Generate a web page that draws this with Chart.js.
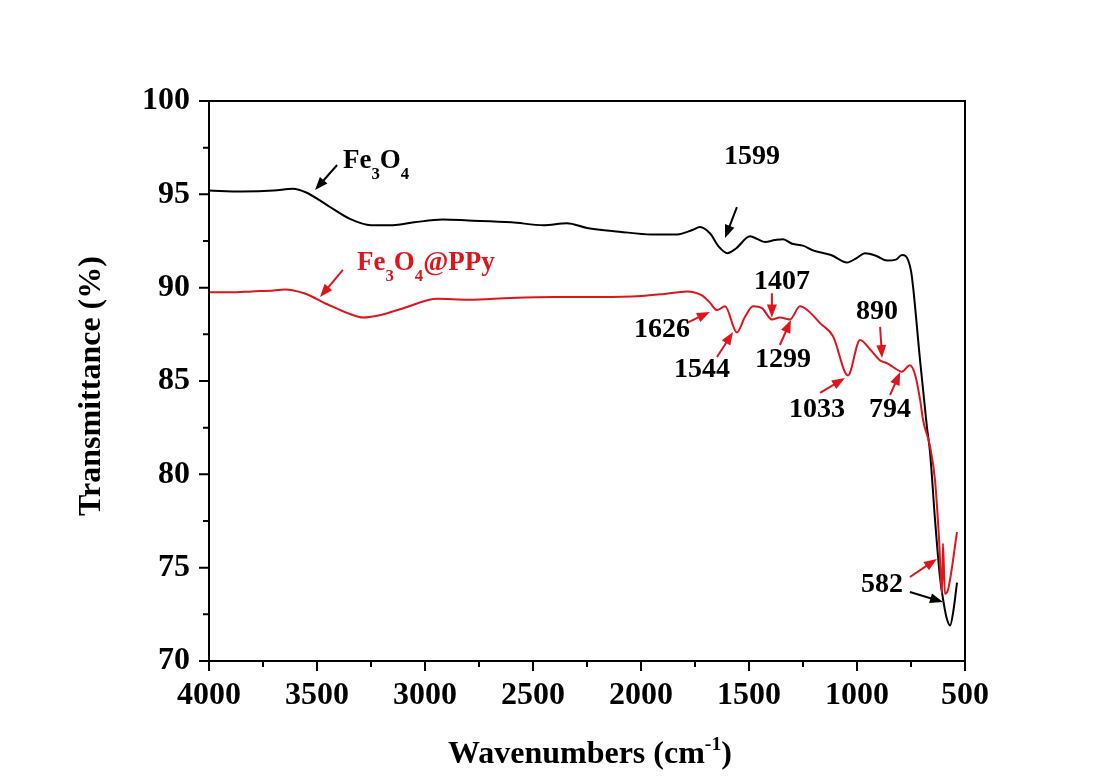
<!DOCTYPE html>
<html>
<head>
<meta charset="utf-8">
<script src="https://cdn.jsdelivr.net/npm/chart.js@4.4.0/dist/chart.umd.min.js"></script>
<style>
  body { margin: 0; background: #fff; }
</style>
</head>
<body>
<canvas id="ftir" width="1105" height="783"></canvas>
<script>
// FTIR spectra
const fe3o4Wn = [4000, 3850, 3700, 3611, 3550, 3450, 3350, 3250, 3150, 3050, 2917, 2800, 2600, 2450, 2343, 2250, 2100, 1950, 1833, 1760, 1727, 1680, 1640, 1600, 1560, 1495, 1460, 1426, 1380, 1343, 1300, 1250, 1204, 1120, 1046, 1000, 963, 910, 861, 820, 792, 775, 750, 740, 708, 676, 662, 639, 616, 600, 585, 569, 555, 537];
const fe3o4T  = [95.2, 95.15, 95.2, 95.3, 95.1, 94.4, 93.7, 93.35, 93.35, 93.5, 93.65, 93.6, 93.5, 93.35, 93.45, 93.2, 93.0, 92.85, 92.85, 93.1, 93.25, 92.9, 92.2, 91.85, 92.1, 92.75, 92.6, 92.45, 92.55, 92.6, 92.35, 92.25, 92.0, 91.75, 91.35, 91.6, 91.85, 91.7, 91.45, 91.5, 91.75, 91.7, 90.9, 90.0, 86.1, 82.5, 81.2, 77.6, 74.5, 73.2, 72.3, 71.9, 72.6, 74.2];

const ppyWn = [4000, 3900, 3800, 3700, 3650, 3560, 3450, 3350, 3287, 3200, 3100, 2944, 2800, 2600, 2400, 2190, 2000, 1900, 1787, 1720, 1681, 1648, 1611, 1556, 1520, 1481, 1440, 1394, 1357, 1310, 1264, 1220, 1171, 1111, 1042, 986, 940, 893, 860, 833, 792, 755, 730, 708, 694, 662, 639, 620, 607, 602, 593, 579, 537];
const ppyT  = [89.75, 89.75, 89.8, 89.85, 89.9, 89.7, 89.1, 88.6, 88.4, 88.55, 88.9, 89.4, 89.35, 89.45, 89.5, 89.5, 89.55, 89.65, 89.8, 89.6, 89.2, 88.8, 89.0, 87.6, 88.4, 89.0, 88.9, 88.3, 88.4, 88.3, 89.0, 88.7, 88.1, 87.4, 85.3, 87.2, 86.7, 86.1, 85.95, 85.75, 85.5, 85.85, 85.3, 84.0, 82.9, 81.5, 79.7, 76.5, 73.6, 76.3, 73.6, 73.8, 76.9];

const xTickValues = [4000, 3500, 3000, 2500, 2000, 1500, 1000, 500];
const yTickValues = [70, 75, 80, 85, 90, 95, 100];

// peak labels: text, wavenumber, transmittance (centre)
const peakText  = ["1599", "1407", "1626", "1544", "1299", "890", "1033", "794", "582"];
const peakX     = [1486, 1347, 1903, 1718, 1343, 907, 1185, 847, 884];
const peakY     = [97.0, 90.3, 87.73, 85.6, 86.13, 88.7, 83.45, 83.45, 74.07];

// arrows: tail (x,y) -> head (x,y)
const arrowFromX = [3407, 3380, 1556, 1394, 1787, 1648, 1357, 893, 1171, 847, 755, 755];
const arrowFromY = [96.57, 90.95, 94.32, 89.7, 88.11, 86.29, 86.93, 87.9, 84.36, 84.25, 74.5, 73.7];
const arrowToX   = [3509, 3486, 1611, 1394, 1681, 1574, 1306, 884, 1056, 800, 630, 602];
const arrowToY   = [95.23, 89.5, 92.66, 88.4, 88.70, 87.63, 88.27, 86.23, 85.16, 85.48, 75.47, 73.16];
const arrowColor = ["#000", "red", "#000", "red", "red", "red", "red", "red", "red", "red", "red", "#000"];

const RED = "#e0141b";
const SERIF = '"Liberation Serif", "Times New Roman", serif';

function drawArrow(ctx, x1, y1, x2, y2, color) {
  const ang = Math.atan2(y2 - y1, x2 - x1);
  const head = 13, half = 5;
  ctx.save();
  ctx.strokeStyle = color;
  ctx.fillStyle = color;
  ctx.lineWidth = 2;
  ctx.beginPath();
  ctx.moveTo(x1, y1);
  ctx.lineTo(x2 - Math.cos(ang) * head * 0.8, y2 - Math.sin(ang) * head * 0.8);
  ctx.stroke();
  ctx.beginPath();
  ctx.moveTo(x2, y2);
  ctx.lineTo(x2 - head * Math.cos(ang) + half * Math.sin(ang), y2 - head * Math.sin(ang) - half * Math.cos(ang));
  ctx.lineTo(x2 - head * Math.cos(ang) - half * Math.sin(ang), y2 - head * Math.sin(ang) + half * Math.cos(ang));
  ctx.closePath();
  ctx.fill();
  ctx.restore();
}

// parts: [text, shift] shift: 0 normal, 1 subscript, -1 superscript
function drawRich(ctx, parts, x, y, size, color) {
  ctx.save();
  ctx.fillStyle = color;
  ctx.textBaseline = "alphabetic";
  ctx.textAlign = "left";
  let cx = x;
  parts.forEach(([t, shift]) => {
    const s = shift ? size * 0.62 : size;
    ctx.font = `bold ${s}px ${SERIF}`;
    const dy = shift === 1 ? size * 0.42 : shift === -1 ? -size * 0.42 : 0;
    ctx.fillText(t, cx, y + dy);
    cx += ctx.measureText(t).width;
  });
  ctx.restore();
  return cx - x;
}

function richWidth(ctx, parts, size) {
  let w = 0;
  parts.forEach(([t, shift]) => {
    ctx.font = `bold ${shift ? size * 0.62 : size}px ${SERIF}`;
    w += ctx.measureText(t).width;
  });
  return w;
}

const decorations = {
  id: "decorations",
  afterDatasetsDraw(chart) {
    const { ctx, chartArea: a, scales: { x, y } } = chart;
    ctx.save();
    // frame
    ctx.strokeStyle = "#000";
    ctx.lineWidth = 2;
    ctx.strokeRect(a.left, a.top, a.right - a.left, a.bottom - a.top);
    // ticks, major + minor, pointing out
    ctx.beginPath();
    for (let v = 500; v <= 4000; v += 250) {
      const px = x.getPixelForValue(v);
      const len = v % 500 === 0 ? 10 : 6;
      ctx.moveTo(px, a.bottom);
      ctx.lineTo(px, a.bottom + len);
    }
    for (let v = 70; v <= 100; v += 2.5) {
      const py = y.getPixelForValue(v);
      const len = v % 5 === 0 ? 10 : 6;
      ctx.moveTo(a.left, py);
      ctx.lineTo(a.left - len, py);
    }
    ctx.stroke();

    // arrows
    arrowFromX.forEach((_, i) => {
      drawArrow(ctx,
        x.getPixelForValue(arrowFromX[i]), y.getPixelForValue(arrowFromY[i]),
        x.getPixelForValue(arrowToX[i]), y.getPixelForValue(arrowToY[i]),
        arrowColor[i] === "red" ? RED : arrowColor[i]);
    });

    // peak numbers
    ctx.fillStyle = "#000";
    ctx.font = `bold 28px ${SERIF}`;
    ctx.textAlign = "center";
    ctx.textBaseline = "middle";
    peakText.forEach((t, i) => {
      ctx.fillText(t, x.getPixelForValue(peakX[i]), y.getPixelForValue(peakY[i]));
    });

    // sample names
    drawRich(ctx, [["Fe", 0], ["3", 1], ["O", 0], ["4", 1]],
      x.getPixelForValue(3380), y.getPixelForValue(96.41), 27, "#000");
    drawRich(ctx, [["Fe", 0], ["3", 1], ["O", 0], ["4", 1], ["@PPy", 0]],
      x.getPixelForValue(3315), y.getPixelForValue(90.95), 27, RED);

    // axis titles
    const xt = [["Wavenumbers (cm", 0], ["-1", -1], [")", 0]];
    const w = richWidth(ctx, xt, 32);
    drawRich(ctx, xt, 590 - w / 2, 763, 32, "#000");

    ctx.save();
    ctx.translate(92, 386);
    ctx.rotate(-Math.PI / 2);
    ctx.font = `bold 32px ${SERIF}`;
    ctx.fillStyle = "#000";
    ctx.textAlign = "center";
    ctx.textBaseline = "middle";
    ctx.fillText("Transmittance (%)", 0, 0);
    ctx.restore();

    ctx.restore();
  }
};

new Chart(document.getElementById("ftir"), {
  type: "line",
  data: {
    datasets: [
      {
        label: "Fe3O4@PPy",
        data: ppyWn.map((w, i) => ({ x: w, y: ppyT[i] })),
        borderColor: RED,
        borderWidth: 2,
        pointRadius: 0,
        cubicInterpolationMode: "monotone",
        fill: false,
      },
      {
        label: "Fe3O4",
        data: fe3o4Wn.map((w, i) => ({ x: w, y: fe3o4T[i] })),
        borderColor: "#000",
        borderWidth: 2,
        pointRadius: 0,
        cubicInterpolationMode: "monotone",
        fill: false,
      },
    ],
  },
  options: {
    responsive: false,
    animation: false,
    layout: { padding: { left: 0, right: 140, top: 101, bottom: 0 } },
    plugins: { legend: { display: false }, tooltip: { enabled: false } },
    scales: {
      x: {
        type: "linear",
        reverse: true,
        min: 500,
        max: 4000,
        afterFit: (s) => { s.height = 122; },
        afterBuildTicks: (s) => { s.ticks = xTickValues.map((v) => ({ value: v })); },
        grid: { display: false, drawTicks: false },
        border: { display: false },
        ticks: {
          color: "#000",
          padding: 16,
          maxRotation: 0,
          autoSkip: false,
          callback: (v) => String(v),
          font: { family: SERIF, size: 32, weight: "bold" },
        },
      },
      y: {
        min: 70,
        max: 100,
        afterFit: (s) => { s.width = 209; },
        afterBuildTicks: (s) => { s.ticks = yTickValues.map((v) => ({ value: v })); },
        grid: { display: false, drawTicks: false },
        border: { display: false },
        ticks: {
          color: "#000",
          padding: 19,
          callback: (v) => String(v),
          font: { family: SERIF, size: 32, weight: "bold" },
        },
      },
    },
  },
  plugins: [decorations],
});
</script>
</body>
</html>
